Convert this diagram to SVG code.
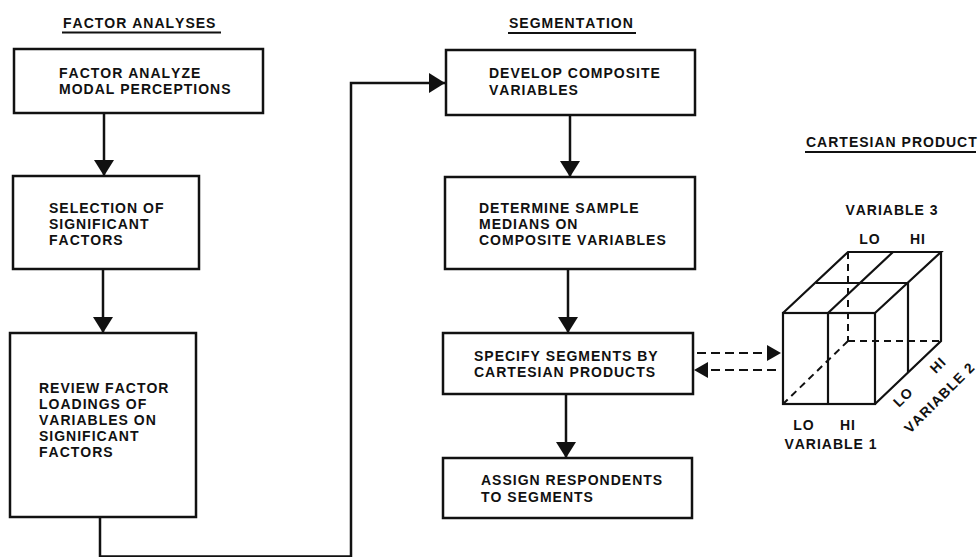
<svg xmlns="http://www.w3.org/2000/svg" width="979" height="557" viewBox="0 0 979 557">
  <defs>
    <style>
      text { font-family: "Liberation Sans", Arial, Helvetica, sans-serif; font-weight: bold; font-size: 14px; letter-spacing: 1px; font-kerning: none; fill: #111; }
      .box { fill: #fff; stroke: #111; stroke-width: 2.5; }
      .flow { fill: none; stroke: #111; stroke-width: 2.5; }
      .dash { fill: none; stroke: #111; stroke-width: 2.2; stroke-dasharray: 9 5; }
      .edge { fill: none; stroke: #111; stroke-width: 2.2; }
      .hidden { fill: none; stroke: #111; stroke-width: 2; stroke-dasharray: 7 5; }
      .rule { stroke: #111; stroke-width: 2; }
    </style>
    <marker id="arrow" markerUnits="userSpaceOnUse" markerWidth="17" markerHeight="20" refX="16" refY="10" orient="auto">
      <path d="M0,0 L16,10 L0,20 z" fill="#111"/>
    </marker>
    <marker id="arrowSmall" markerUnits="userSpaceOnUse" markerWidth="15" markerHeight="16" refX="14" refY="8" orient="auto">
      <path d="M0,0 L14,8 L0,16 z" fill="#111"/>
    </marker>
  </defs>
  <rect width="979" height="557" fill="#fff"/>

  <!-- column headings -->
  <g id="heading-factor">
    <text x="63" y="28">FACTOR ANALYSES</text>
    <line class="rule" x1="62" y1="32.5" x2="221" y2="32.5"/>
  </g>
  <g id="heading-segmentation">
    <text x="509" y="28">SEGMENTATION</text>
    <line class="rule" x1="508" y1="33" x2="636" y2="33"/>
  </g>
  <g id="heading-cartesian">
    <text x="806" y="147">CARTESIAN PRODUCT</text>
    <line class="rule" x1="805" y1="152" x2="976" y2="152"/>
  </g>

  <!-- connectors -->
  <g id="connectors">
    <line class="flow" x1="104" y1="113" x2="104" y2="176" marker-end="url(#arrow)"/>
    <line class="flow" x1="103" y1="269" x2="103" y2="333" marker-end="url(#arrow)"/>
    <!-- return path runs along the bottom edge of the sheet -->
    <path class="flow" d="M100,517 L100,556.5 L351,556.5 L351,83 L445,83" marker-end="url(#arrow)"/>
    <line class="flow" x1="570" y1="115" x2="570" y2="177" marker-end="url(#arrow)"/>
    <line class="flow" x1="568" y1="269" x2="568" y2="333" marker-end="url(#arrow)"/>
    <line class="flow" x1="566" y1="394" x2="566" y2="458" marker-end="url(#arrow)"/>
    <line class="dash" x1="697" y1="353" x2="781" y2="353" marker-end="url(#arrowSmall)"/>
    <line class="dash" x1="776" y1="370" x2="694" y2="370" marker-end="url(#arrowSmall)"/>
  </g>

  <!-- factor analysis column -->
  <g id="node-factor-analyze">
    <rect class="box" x="14" y="49" width="249" height="64"/>
    <text x="59" y="78">FACTOR ANALYZE</text>
    <text x="59" y="94">MODAL PERCEPTIONS</text>
  </g>
  <g id="node-selection">
    <rect class="box" x="13" y="176" width="186" height="93"/>
    <text x="49" y="213">SELECTION OF</text>
    <text x="49" y="229">SIGNIFICANT</text>
    <text x="49" y="245">FACTORS</text>
  </g>
  <g id="node-review">
    <rect class="box" x="10" y="333" width="186" height="184"/>
    <text x="39" y="393">REVIEW FACTOR</text>
    <text x="39" y="409">LOADINGS OF</text>
    <text x="39" y="425">VARIABLES ON</text>
    <text x="39" y="441">SIGNIFICANT</text>
    <text x="39" y="457">FACTORS</text>
  </g>

  <!-- segmentation column -->
  <g id="node-composite">
    <rect class="box" x="446" y="50" width="249" height="65"/>
    <text x="489" y="78">DEVELOP COMPOSITE</text>
    <text x="489" y="95">VARIABLES</text>
  </g>
  <g id="node-medians">
    <rect class="box" x="445" y="177" width="250" height="92"/>
    <text x="479" y="213">DETERMINE SAMPLE</text>
    <text x="479" y="229">MEDIANS ON</text>
    <text x="479" y="245">COMPOSITE VARIABLES</text>
  </g>
  <g id="node-specify">
    <rect class="box" x="443" y="333" width="250" height="61"/>
    <text x="474" y="361">SPECIFY SEGMENTS BY</text>
    <text x="474" y="377">CARTESIAN PRODUCTS</text>
  </g>
  <g id="node-assign">
    <rect class="box" x="443" y="458" width="249" height="60"/>
    <text x="481" y="485">ASSIGN RESPONDENTS</text>
    <text x="481" y="502">TO SEGMENTS</text>
  </g>

  <!-- cartesian product cube -->
  <g id="node-cube">
    <!-- hidden edges -->
    <path class="hidden" d="M848,252 L848,341 M848,341 L941,341 M848,341 L783,404"/>
    <!-- front face with LO/HI split -->
    <rect class="edge" x="783" y="313" width="92" height="91"/>
    <line class="edge" x1="828" y1="313" x2="828" y2="404"/>
    <!-- top face -->
    <path class="edge" d="M783,313 L848,252 L941,252 L875,313"/>
    <line class="edge" x1="828" y1="313" x2="893" y2="252"/>
    <line class="edge" x1="816" y1="283" x2="908" y2="283"/>
    <!-- right face -->
    <path class="edge" d="M941,252 L941,341 L875,404"/>
    <line class="edge" x1="908" y1="283" x2="908" y2="372"/>

    <text x="892" y="215" text-anchor="middle">VARIABLE 3</text>
    <text x="870" y="244" text-anchor="middle">LO</text>
    <text x="918" y="244" text-anchor="middle">HI</text>
    <text x="804" y="430" text-anchor="middle">LO</text>
    <text x="848" y="430" text-anchor="middle">HI</text>
    <text x="831" y="449" text-anchor="middle">VARIABLE 1</text>
    <text x="906.5" y="400.5" text-anchor="middle" transform="rotate(-45 906.5 400.5)">LO</text>
    <text x="941.5" y="368.5" text-anchor="middle" transform="rotate(-45 941.5 368.5)">HI</text>
    <text x="910" y="434" transform="rotate(-45 910 434)">VARIABLE 2</text>
  </g>
</svg>
